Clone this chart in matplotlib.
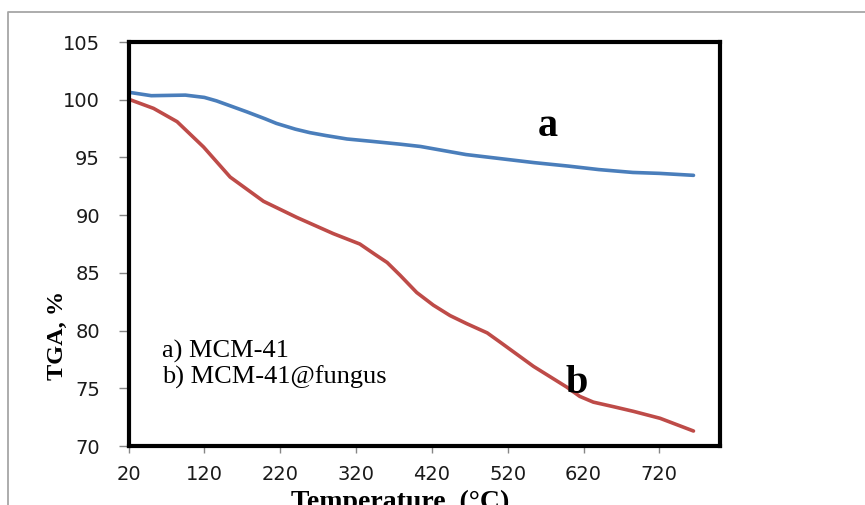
import matplotlib
matplotlib.use("Agg")
import matplotlib.pyplot as plt
from matplotlib.lines import Line2D

# TGA curves, temperature in °C, residual mass in %
temp_a = [20, 50, 95, 120, 136, 155, 176, 200, 215, 240, 259, 280, 308, 340, 378, 405,
          435, 465, 510, 555, 600, 640, 685, 720, 765]
tga_a = [100.65, 100.35, 100.4, 100.2, 99.9, 99.45, 98.95, 98.35, 97.95, 97.45, 97.15,
         96.9, 96.6, 96.4, 96.15, 95.95, 95.6, 95.25, 94.9, 94.55, 94.25, 93.95, 93.7,
         93.62, 93.45]

temp_b = [20, 53, 84, 119, 154, 198, 242, 290, 325, 345, 361, 378, 400, 422, 444, 466,
          493, 510, 554, 598, 615, 633, 660, 686, 721, 765]
tga_b = [100.05, 99.25, 98.1, 95.9, 93.3, 91.2, 89.8, 88.4, 87.5, 86.6, 85.9, 84.8, 83.3,
         82.2, 81.3, 80.6, 79.8, 79.0, 76.9, 75.1, 74.3, 73.8, 73.4, 73.0, 72.4, 71.3]

xticks = [20, 120, 220, 320, 420, 520, 620, 720]
yticks = [70, 75, 80, 85, 90, 95, 100, 105]

serif = "Liberation Serif"

fig = plt.figure(figsize=(8.65, 5.05), dpi=100)
ax = fig.add_axes([0.1486, 0.1168, 0.6838, 0.8])

ax.plot(temp_a, tga_a, color="#4A7EBB", lw=2.6, solid_capstyle="round", solid_joinstyle="round")
ax.plot(temp_b, tga_b, color="#BE4B48", lw=2.6, solid_capstyle="round", solid_joinstyle="round")

ax.set_xlim(20, 800)
ax.set_ylim(70, 105)
ax.set_xticks(xticks)
ax.set_yticks(yticks)
ax.tick_params(axis="both", direction="out", color="#868686", width=1,
               labelsize=14, labelcolor="#1a1a1a")
ax.tick_params(axis="y", length=7, pad=13.5)
ax.tick_params(axis="x", length=5, pad=8.6)
for s in ax.spines.values():
    s.set_linewidth(3)
    s.set_color("black")

ax.text(573, 96.85, "a", family=serif, weight="bold", fontsize=29, ha="center", va="baseline")
ax.text(596, 74.6, "b", family=serif, weight="bold", fontsize=29, ha="left", va="baseline")
ax.text(64, 77.7, "a) MCM-41", family=serif, fontsize=19, va="baseline")
ax.text(64, 75.45, "b) MCM-41@fungus", family=serif, fontsize=19, va="baseline")

fig.text(57 / 865, 1 - 335 / 505, "TGA, %", family=serif, weight="bold", fontsize=17.5,
         rotation=90, ha="center", va="center")
fig.text(400 / 865, -0.007, "Temperature, (°C)", family=serif, weight="bold", fontsize=20,
         ha="center", va="baseline")

# light grey outer frame
fx, fy = 8 / 865, 1 - 12 / 505
fig.add_artist(Line2D([fx, fx, 1.0], [0.0, fy, fy], color="#A6A6A6", lw=1.3,
                      transform=fig.transFigure))

fig.savefig("out.png", dpi=100)
